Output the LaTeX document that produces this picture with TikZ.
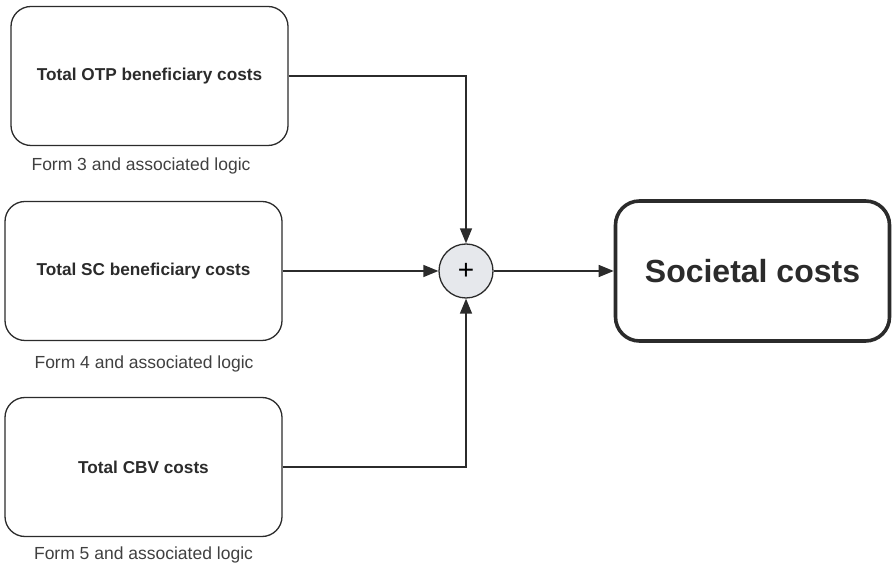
\documentclass[tikz,border=0pt]{standalone}
\usepackage{fontspec}
\setmainfont{Liberation Sans}
\usetikzlibrary{arrows.meta}
\definecolor{inkline}{HTML}{2B2B2B}
\definecolor{sumfill}{HTML}{E6E8EC}
\begin{document}
\begin{tikzpicture}[x=1pt,y=1pt,
  costbox/.style={draw=inkline, line width=1.3pt, rounded corners=20pt,
    minimum width=277pt, minimum height=139pt, inner sep=0pt,
    font=\bfseries\fontsize{17.2}{20}\selectfont, text=inkline},
  formlabel/.style={font=\fontsize{17.5}{20}\selectfont, text=inkline!90, inner sep=0pt},
  totalbox/.style={draw=inkline, line width=3.6pt, rounded corners=24pt,
    minimum width=274pt, minimum height=140pt, inner sep=0pt,
    font=\bfseries\fontsize{32}{36}\selectfont, text=inkline},
  sumnode/.style={circle, draw=inkline, line width=1.3pt, fill=sumfill,
    minimum size=54pt, inner sep=0pt, font=\fontsize{28}{30}\selectfont},
  link/.style={draw=inkline, line width=1.4pt,
    -{Triangle[length=15pt,width=12pt]}},
]
\useasboundingbox (0,0) rectangle (893,567);

% input cost blocks
\node[costbox] (otp) at (149.5,491) {Total OTP beneficiary costs};
\node[costbox] (sc)  at (143.5,296) {Total SC beneficiary costs};
\node[costbox] (cbv) at (143.5,100) {Total CBV costs};

% source notes under each block
\node[formlabel] (n3) at (141,401) {Form 3 and associated logic};
\node[formlabel] (n4) at (144,203) {Form 4 and associated logic};
\node[formlabel] (n5) at (143.5,12) {Form 5 and associated logic};

% summing junction and result
\node[sumnode] (sum) at (466,296) {+};
\node[totalbox] (soc) at (752.5,296) {Societal costs};

% connectors
\draw[link] (otp.east) -| (sum.north);
\draw[link] (sc.east) -- (sum.west);
\draw[link] (cbv.east) -| (sum.south);
\draw[link] (sum.east) -- (soc.west);
\end{tikzpicture}
\end{document}
